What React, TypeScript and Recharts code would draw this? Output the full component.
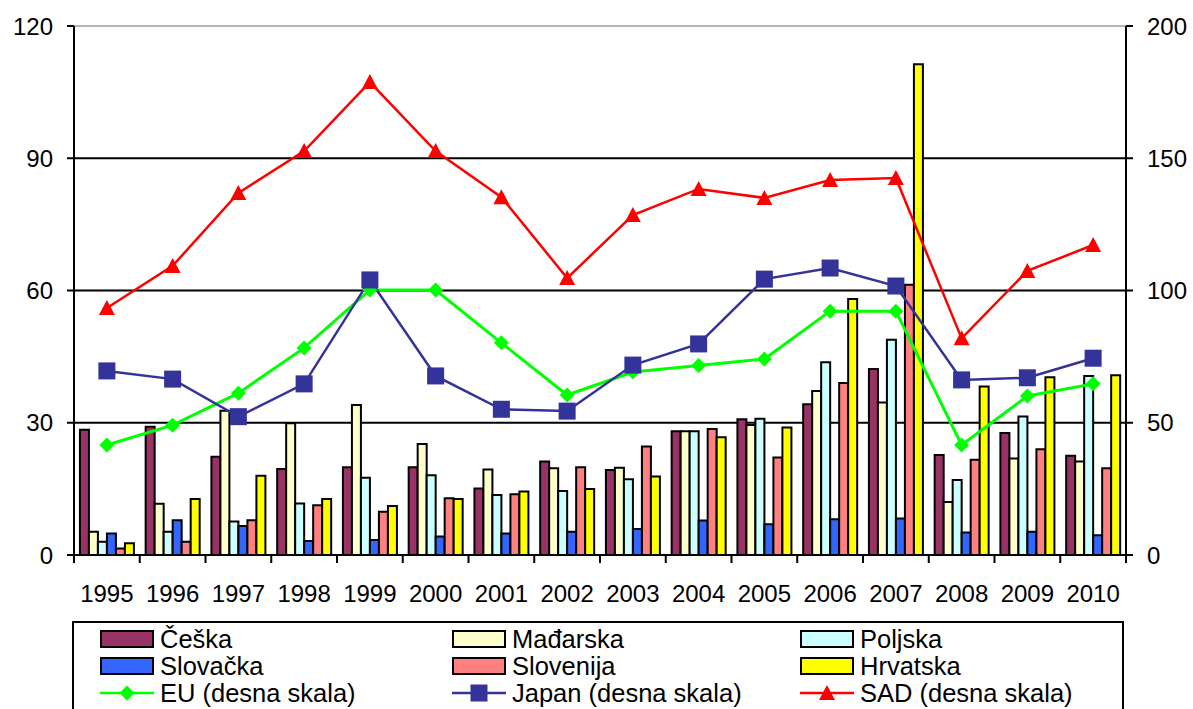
import React from "react";
import {
  ComposedChart,
  Bar,
  Line,
  XAxis,
  YAxis,
  CartesianGrid,
  ReferenceLine,
} from "recharts";

const years = ["1995", "1996", "1997", "1998", "1999", "2000", "2001", "2002", "2003", "2004", "2005", "2006", "2007", "2008", "2009", "2010"];

// left scale (bars)
const ceska = [28.4, 29.1, 22.3, 19.5, 19.9, 19.9, 15.1, 21.2, 19.3, 28.1, 30.8, 34.2, 42.2, 22.7, 27.7, 22.5];
const madarska = [5.3, 11.6, 32.7, 29.9, 34.0, 25.2, 19.4, 19.7, 19.8, 28.1, 29.5, 37.2, 34.6, 12.0, 21.9, 21.2];
const poljska = [3.0, 5.3, 7.6, 11.7, 17.5, 18.1, 13.6, 14.5, 17.2, 28.1, 30.9, 43.7, 48.8, 17.0, 31.4, 40.6];
const slovacka = [4.9, 7.9, 6.6, 3.2, 3.4, 4.2, 4.9, 5.3, 5.9, 7.8, 7.0, 8.1, 8.3, 5.1, 5.3, 4.5];
const slovenija = [1.5, 3.0, 7.9, 11.3, 9.8, 12.9, 13.8, 19.9, 24.6, 28.6, 22.1, 39.0, 61.3, 21.6, 24.0, 19.7];
const hrvatska = [2.65, 12.7, 18.0, 12.7, 11.1, 12.7, 14.4, 15.0, 17.8, 26.7, 28.9, 58.1, 111.3, 38.2, 40.3, 40.8];

// right scale (lines)
const eu = [41.6, 49.1, 61.2, 78.3, 100.2, 100.2, 80.2, 60.5, 69.2, 71.6, 74.1, 92.2, 92.2, 41.6, 60.1, 64.7];
const japan = [69.6, 66.5, 52.3, 64.7, 104.0, 67.7, 55.1, 54.4, 71.8, 79.8, 104.3, 108.5, 101.7, 66.2, 67.0, 74.4];
const sad = [93.4, 109.3, 136.9, 152.7, 178.8, 152.7, 135.3, 104.7, 128.5, 138.4, 135.0, 141.8, 142.5, 81.9, 107.4, 117.2];

const leftTicks = [0, 30, 60, 90, 120];
const rightTicks = [0, 50, 100, 150, 200];

const data = years.map((year, i) => ({
  year,
  ceska: ceska[i],
  madarska: madarska[i],
  poljska: poljska[i],
  slovacka: slovacka[i],
  slovenija: slovenija[i],
  hrvatska: hrvatska[i],
  eu: eu[i],
  japan: japan[i],
  sad: sad[i],
}));

const FONT = "'Liberation Sans', Arial, sans-serif";
const W = 1193;
const H = 618;
const X_AXIS_H = 63;
const LEFT_W = 74;
const RIGHT_W = 67;
const PLOT_W = W - LEFT_W - RIGHT_W;

const bars = [
  { key: "ceska", name: "Češka", color: "#993366" },
  { key: "madarska", name: "Mađarska", color: "#FFFFCC" },
  { key: "poljska", name: "Poljska", color: "#CCFFFF" },
  { key: "slovacka", name: "Slovačka", color: "#3366FF" },
  { key: "slovenija", name: "Slovenija", color: "#FF8080" },
  { key: "hrvatska", name: "Hrvatska", color: "#FFFF00" },
];

const lines = [
  { key: "eu", name: "EU (desna skala)", color: "#00FF00", shape: "diamond", width: 3 },
  { key: "japan", name: "Japan (desna skala)", color: "#333399", shape: "square", width: 2.5 },
  { key: "sad", name: "SAD (desna skala)", color: "#FF0000", shape: "triangle", width: 2.5 },
];

function Marker({ cx, cy, shape, color }: { cx: number; cy: number; shape: string; color: string }) {
  if (cx == null || cy == null) return null;
  if (shape === "diamond") {
    const r = 7.5;
    return <polygon points={`${cx},${cy - r} ${cx + r},${cy} ${cx},${cy + r} ${cx - r},${cy}`} fill={color} />;
  }
  if (shape === "square") {
    const r = 8.5;
    return <rect x={cx - r} y={cy - r} width={r * 2} height={r * 2} fill={color} />;
  }
  const r = 8;
  return <polygon points={`${cx},${cy - r} ${cx + r},${cy + 7} ${cx - r},${cy + 7}`} fill={color} />;
}

const YearTick = (props: any) => {
  const { x, y, payload, index } = props;
  const band = PLOT_W / years.length;
  return (
    <g>
      <line x1={x - band / 2} x2={x - band / 2} y1={y - 8} y2={y} stroke="#000" strokeWidth={2} />
      {index === years.length - 1 && (
        <line x1={x + band / 2} x2={x + band / 2} y1={y - 8} y2={y} stroke="#000" strokeWidth={2} />
      )}
      <text x={x} y={y + 39} textAnchor="middle" fontSize={24} fontFamily={FONT} fill="#000">
        {payload.value}
      </text>
    </g>
  );
};

function LegendBox() {
  const cols = [98, 450, 798];
  const rows = [637, 664, 691];
  const items = [
    ...bars.map((b) => ({ ...b, kind: "bar" as const })),
    ...lines.map((l) => ({ ...l, kind: "line" as const })),
  ];
  return (
    <div
      style={{
        position: "absolute",
        left: 72,
        top: 621,
        width: 1052,
        height: 100,
        border: "2px solid #000",
        boxSizing: "border-box",
        background: "#fff",
      }}
    >
      {items.map((it, i) => {
        const left = cols[i % 3] - 72;
        const top = rows[Math.floor(i / 3)] - 621;
        return (
          <div key={it.key} style={{ position: "absolute", left, top: top - 14, height: 28, display: "flex", alignItems: "center" }}>
            <svg width={54} height={20} style={{ display: "block" }}>
              {it.kind === "bar" ? (
                <rect x={1} y={2} width={52} height={16} fill={it.color} stroke="#000" strokeWidth={2} />
              ) : (
                <>
                  <line x1={0} x2={54} y1={10} y2={10} stroke={it.color} strokeWidth={2.5} />
                  <Marker cx={27} cy={10} shape={(it as any).shape} color={it.color} />
                </>
              )}
            </svg>
            <span style={{ marginLeft: 6, fontFamily: FONT, fontSize: 25.5, color: "#000", lineHeight: "26px", whiteSpace: "nowrap" }}>
              {it.name}
            </span>
          </div>
        );
      })}
    </div>
  );
}

export default function App() {
  return (
    <div style={{ position: "absolute", left: 0, top: 0, width: 1193, height: 709, background: "#fff", overflow: "hidden" }}>
      <ComposedChart
        width={W}
        height={H}
        data={data}
        margin={{ top: 26, right: 0, left: 0, bottom: 0 }}
        barCategoryGap="9%"
        barGap={0}
      >
        <CartesianGrid horizontal vertical={false} horizontalValues={[30, 60, 90]} stroke="#000" strokeWidth={2} yAxisId="left" />
        <XAxis
          dataKey="year"
          interval={0}
          height={X_AXIS_H}
          tickLine={false}
          tickSize={8}
          tickMargin={0}
          axisLine={{ stroke: "#000", strokeWidth: 2 }}
          tick={<YearTick />}
        />
        <YAxis
          yAxisId="left"
          orientation="left"
          width={LEFT_W}
          domain={[0, 120]}
          ticks={leftTicks}
          interval={0}
          tickSize={7}
          tickMargin={14}
          axisLine={{ stroke: "#000", strokeWidth: 2 }}
          tickLine={{ stroke: "#000", strokeWidth: 2 }}
          tick={{ fontSize: 24, fontFamily: FONT, fill: "#000" }}
        />
        <YAxis
          yAxisId="right"
          orientation="right"
          width={RIGHT_W}
          domain={[0, 200]}
          ticks={rightTicks}
          interval={0}
          tickSize={7}
          tickMargin={14}
          axisLine={{ stroke: "#000", strokeWidth: 2 }}
          tickLine={{ stroke: "#000", strokeWidth: 2 }}
          tick={{ fontSize: 24, fontFamily: FONT, fill: "#000", textAnchor: "start" }}
        />
        <ReferenceLine yAxisId="left" y={120} stroke="#b4b4b4" strokeWidth={2} />
        {bars.map((b) => (
          <Bar
            key={b.key}
            yAxisId="left"
            dataKey={b.key}
            name={b.name}
            fill={b.color}
            stroke="#000"
            strokeWidth={2}
            isAnimationActive={false}
          />
        ))}
        {lines.map((l) => (
          <Line
            key={l.key}
            yAxisId="right"
            type="linear"
            dataKey={l.key}
            name={l.name}
            stroke={l.color}
            strokeWidth={l.width}
            isAnimationActive={false}
            activeDot={false}
            dot={(p: any) => <Marker key={`${l.key}-${p.index}`} cx={p.cx} cy={p.cy} shape={l.shape} color={l.color} />}
          />
        ))}
      </ComposedChart>
      <LegendBox />
    </div>
  );
}
